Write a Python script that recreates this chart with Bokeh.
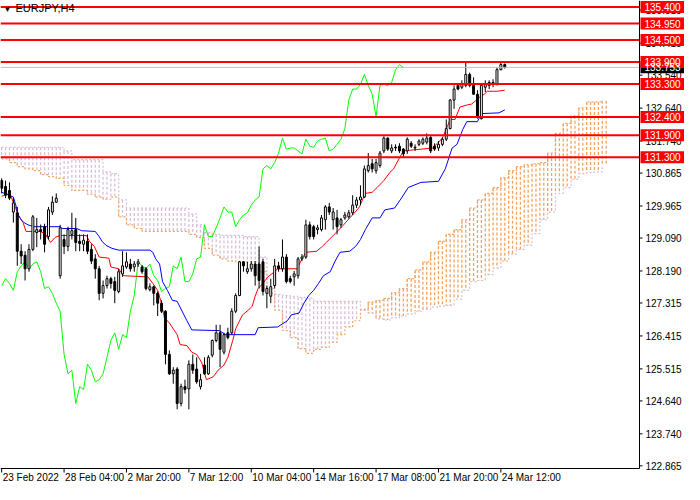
from bokeh.plotting import figure
from bokeh.models import Range1d, Label
from bokeh.core.properties import value
from bokeh.embed import file_html
from bokeh.resources import INLINE

# ---------------- data ----------------
symbol = "EURJPY,H4"
time_label_bars = [0, 16, 32, 48, 64, 80, 96, 112, 128]
time_labels = ["23 Feb 2022", "28 Feb 04:00", "2 Mar 20:00", "7 Mar 12:00", "10 Mar 04:00",
               "14 Mar 16:00", "17 Mar 08:00", "21 Mar 20:00", "24 Mar 12:00"]
price_ticks = [135.315, 134.415, 133.540, 132.640, 131.740, 130.865, 129.965, 129.090,
               128.190, 127.315, 126.415, 125.515, 124.640, 123.740, 122.865]
levels = [135.40, 134.95, 134.50, 133.90, 133.30, 132.40, 131.90, 131.30]
last_price = 133.753

opens = [130.66, 130.50, 130.39, 129.80, 129.78, 128.73, 128.62, 128.25, 128.78, 129.24,
         129.32, 129.40, 129.13, 129.80, 130.07, 128.06, 129.05, 128.86, 129.19, 129.32,
         129.00, 128.92, 129.00, 128.78, 128.52, 128.25, 127.58, 127.79, 127.98, 127.90,
         127.63, 128.11, 128.30, 128.38, 128.30, 128.38, 128.30, 128.25, 127.68, 127.76,
         127.58, 127.31, 127.09, 125.91, 125.38, 125.51, 124.57, 125.03, 124.97, 125.64,
         125.51, 125.03, 125.62, 125.38, 125.89, 126.29, 126.50, 125.97, 126.50, 126.50,
         127.09, 127.52, 128.44, 128.17, 128.25, 128.38, 128.38, 128.44, 127.58, 127.50,
         127.79, 128.33, 128.25, 128.57, 127.98, 128.03, 128.06, 128.52, 128.57, 129.45,
         129.40, 129.32, 129.32, 129.59, 129.94, 129.59, 129.64, 129.45, 129.64, 129.67,
         129.78, 129.99, 130.13, 130.21, 130.93, 131.12, 130.93, 131.07, 131.47, 131.82,
         131.47, 131.57, 131.60, 131.52, 131.47, 131.68, 131.55, 131.65, 131.68, 131.71,
         131.84, 131.60, 131.55, 131.65, 131.79, 132.08, 132.86, 133.26, 133.21, 133.26,
         133.56, 133.26, 133.02, 132.35, 133.21, 133.34, 133.29, 133.29, 133.69, 133.83]
highs = [130.72, 130.66, 130.61, 130.18, 129.94, 128.92, 128.73, 128.92, 129.72, 129.64,
         129.46, 129.48, 129.94, 130.23, 130.31, 129.45, 129.19, 129.40, 129.78, 129.64,
         129.19, 129.19, 129.19, 128.92, 128.65, 128.33, 127.93, 128.06, 128.03, 128.03,
         128.25, 128.73, 128.70, 128.52, 128.46, 128.52, 128.35, 128.30, 127.85, 127.79,
         127.63, 127.39, 127.12, 126.02, 125.56, 125.56, 125.11, 125.22, 125.75, 125.91,
         125.83, 125.38, 125.83, 125.89, 126.32, 126.72, 126.72, 126.50, 126.64, 127.17,
         127.58, 128.46, 128.46, 128.44, 128.46, 128.46, 128.86, 128.52, 127.79, 127.98,
         128.52, 128.44, 129.05, 128.65, 128.06, 128.19, 128.57, 128.65, 129.59, 129.54,
         129.45, 129.45, 129.72, 129.99, 130.05, 129.91, 129.86, 129.64, 129.80, 129.86,
         130.26, 130.21, 130.53, 131.07, 131.41, 131.25, 131.25, 131.47, 131.87, 131.84,
         131.65, 131.65, 131.68, 131.55, 131.84, 131.74, 131.65, 131.79, 131.84, 131.95,
         131.87, 131.68, 131.74, 131.84, 132.33, 132.89, 133.26, 133.29, 133.40, 133.88,
         133.61, 133.48, 133.13, 133.29, 133.40, 133.40, 133.43, 133.75, 133.88, 133.86]
lows = [130.31, 130.18, 130.13, 129.51, 128.33, 128.38, 127.93, 128.17, 128.73, 128.84,
        129.05, 128.70, 129.05, 129.72, 130.05, 127.98, 128.65, 128.73, 129.05, 128.73,
        128.73, 128.73, 128.65, 128.38, 127.98, 127.39, 127.44, 127.71, 127.71, 127.31,
        127.58, 128.03, 128.25, 128.17, 128.17, 128.30, 128.11, 127.66, 127.63, 127.25,
        126.96, 127.04, 125.64, 125.35, 125.11, 124.41, 124.49, 124.84, 124.41, 125.38,
        125.11, 124.95, 125.35, 125.35, 125.83, 126.24, 125.56, 125.91, 126.32, 126.45,
        127.04, 127.50, 128.17, 128.11, 128.17, 127.79, 127.71, 127.52, 127.17, 127.31,
        127.71, 128.17, 128.17, 127.85, 127.85, 127.79, 127.98, 128.46, 128.52, 129.05,
        129.05, 129.19, 129.27, 129.32, 129.72, 129.32, 129.19, 129.37, 129.59, 129.62,
        129.72, 129.91, 129.99, 130.18, 130.88, 130.88, 130.85, 131.01, 131.41, 131.47,
        131.41, 131.47, 131.41, 131.28, 131.39, 131.55, 131.47, 131.60, 131.63, 131.65,
        131.41, 131.47, 131.47, 131.60, 131.74, 132.06, 132.62, 133.13, 133.16, 133.21,
        133.21, 133.00, 132.35, 132.33, 133.08, 133.16, 133.21, 133.26, 133.67, 133.72]
closes = [130.45, 130.26, 130.18, 130.05, 128.73, 128.60, 128.25, 128.78, 129.67, 129.32,
          129.27, 128.92, 129.86, 130.07, 130.18, 129.37, 128.86, 129.32, 129.29, 128.97,
          128.94, 129.03, 128.73, 128.46, 128.25, 127.58, 127.79, 127.98, 127.85, 127.66,
          128.17, 128.33, 128.44, 128.25, 128.38, 128.44, 128.17, 127.71, 127.76, 127.58,
          127.31, 127.09, 125.91, 125.38, 125.48, 124.57, 125.03, 124.95, 125.64, 125.48,
          125.16, 125.22, 125.38, 125.83, 126.29, 126.50, 126.05, 126.45, 126.37, 127.09,
          127.52, 128.44, 128.33, 128.25, 128.38, 128.06, 127.93, 127.63, 127.71, 127.76,
          128.33, 128.25, 128.57, 127.90, 127.90, 128.11, 128.52, 128.57, 129.45, 129.13,
          129.13, 129.37, 129.64, 129.94, 129.80, 129.80, 129.40, 129.59, 129.72, 129.78,
          129.99, 130.13, 130.21, 130.98, 131.07, 130.98, 131.15, 131.41, 131.82, 131.52,
          131.55, 131.55, 131.47, 131.39, 131.79, 131.60, 131.57, 131.74, 131.79, 131.82,
          131.47, 131.52, 131.65, 131.79, 132.08, 132.86, 133.16, 133.16, 133.29, 133.56,
          133.26, 133.02, 132.41, 133.26, 133.29, 133.26, 133.34, 133.69, 133.83, 133.75]

# Ichimoku lines (bar position, price)
tenkan_bar = [0, 2, 3, 4.25, 5.5, 6.25, 10, 11.25, 12.5, 13.75, 15, 21.75, 22.5, 23.75, 25, 27.5, 28,
              30, 31.25, 37.5, 38.75, 40, 40.75, 41.75, 43, 45, 45.75, 47.5, 48.75, 50, 51.25, 52.5,
              54.25, 55.5, 57, 58, 59.25, 60, 61.75, 63.25, 64.25, 65, 65.75, 67, 68.25, 70, 70.75,
              75.75, 77, 78, 80.75, 82, 83.25, 85.75, 87.5, 89.25, 90.5, 91.75, 92.5, 93.25, 95,
              96.25, 98, 99.5, 100.5, 102, 103, 110.5, 111.75, 113, 113.75, 115, 116.25, 117.5,
              119.5, 120.5, 121.75, 122.5, 123.75, 124.5, 127, 129]
tenkan = [130.23, 130.31, 130.07, 129.72, 129.51, 129.27, 129.27, 129.19, 128.97, 129.11, 129.16,
          129.16, 129.00, 128.86, 128.57, 128.54, 128.30, 128.25, 128.06, 128.03, 127.85, 127.66,
          127.39, 126.91, 126.77, 126.45, 126.18, 126.15, 125.97, 125.91, 125.70, 125.22, 125.30,
          125.48, 125.62, 125.83, 126.29, 126.61, 126.99, 127.12, 127.23, 127.50, 127.71, 127.85,
          128.03, 128.17, 128.25, 128.25, 128.52, 128.70, 128.73, 128.84, 128.97, 129.24, 129.43,
          129.64, 129.78, 129.94, 130.13, 130.31, 130.34, 130.47, 130.66, 130.88, 130.98, 131.28,
          131.47, 131.55, 131.68, 131.82, 132.00, 132.33, 132.33, 132.67, 132.73, 132.75, 132.86,
          132.94, 133.02, 133.10, 133.10, 133.13]
kijun_bar = [0, 3, 3.75, 4.25, 5, 5.75, 6.75, 8.25, 15, 15.5, 19.25, 20.5, 24, 25, 25.75, 26.75,
             28.25, 30, 38, 38.75, 39.5, 40.5, 41.25, 42.5, 43.75, 45, 47.5, 48.75, 55.75, 57.5,
             65, 65.75, 70.75, 73.25, 74.25, 76.25, 77.5, 78.75, 80, 81.25, 82.5, 84.25, 85.5,
             86.75, 89.25, 90.75, 92, 93.25, 95, 97, 98.25, 100.75, 102.5, 104.25, 107.5, 112,
             113.75, 115.5, 116.75, 118.25, 119.25, 122, 123, 127.5, 129]
kijun = [130.34, 130.21, 129.94, 129.72, 129.59, 129.51, 129.45, 129.40, 129.40, 129.35, 129.35,
         129.29, 129.27, 129.13, 129.00, 128.89, 128.81, 128.76, 128.76, 128.70, 128.52, 128.38,
         127.90, 127.66, 127.39, 127.36, 126.83, 126.58, 126.56, 126.45, 126.45, 126.64, 126.66,
         126.83, 126.99, 127.04, 127.31, 127.52, 127.66, 127.85, 128.06, 128.17, 128.46, 128.70,
         128.73, 128.86, 129.05, 129.32, 129.64, 129.64, 129.86, 129.91, 130.18, 130.47, 130.61,
         130.64, 130.98, 131.55, 131.65, 132.06, 132.27, 132.27, 132.49, 132.51, 132.59]
cloud_bar = list(range(0, 156, 2))
span_a = [131.25, 131.15, 131.04, 130.98, 130.93, 130.82, 130.77, 130.72, 130.53, 130.39,
          130.39, 130.29, 130.21, 130.15, 130.21, 129.67, 129.45, 129.35, 129.27, 129.27,
          129.27, 129.27, 129.27, 129.27, 129.19, 129.11, 128.81, 128.62, 128.52, 128.46,
          128.44, 128.44, 128.44, 128.17, 127.58, 127.12, 126.56, 126.37, 126.07, 125.94,
          126.05, 126.10, 126.24, 126.45, 126.66, 126.83, 127.12, 127.34, 127.39, 127.44,
          127.60, 127.71, 127.98, 128.22, 128.44, 128.70, 129.00, 129.19, 129.32, 129.59,
          129.91, 130.13, 130.31, 130.47, 130.74, 130.93, 131.04, 131.09, 131.12, 131.15,
          131.41, 131.95, 132.22, 132.43, 132.65, 132.81, 132.81, 132.84]
span_b = [131.57, 131.57, 131.57, 131.57, 131.57, 131.57, 131.57, 131.57, 131.47, 131.23,
          131.23, 131.23, 131.23, 130.90, 130.85, 130.13, 129.91, 129.91, 129.91, 129.91,
          129.91, 129.91, 129.91, 129.91, 129.75, 129.45, 129.24, 129.19, 129.16, 129.16,
          129.16, 129.13, 129.13, 128.57, 127.71, 127.55, 127.52, 127.50, 127.47, 127.44,
          127.36, 127.36, 127.36, 127.36, 127.36, 127.36, 127.15, 127.04, 126.88, 126.85,
          126.91, 126.96, 127.01, 127.09, 127.15, 127.20, 127.23, 127.25, 127.42, 127.66,
          127.90, 127.93, 128.09, 128.27, 128.46, 128.65, 128.78, 128.89, 129.21, 129.59,
          129.80, 130.31, 130.47, 130.69, 130.85, 130.88, 130.90, 131.07]

# ---------------- layout (pixels -> data units) ----------------
FONT = "Liberation Sans"
W, H = 684, 484
PXB, PXY = 3.9, 36.6              # pixels per bar, pixels per yen
X0, Y_TOP = -0.3, 135.58
X1 = X0 + W / PXB
Y_BOT = Y_TOP - H / PXY
XA = X0 + 639 / PXB                # price-scale line
YA = Y_TOP - 468 / PXY             # time-scale line
dx = lambda px: px / PXB
dy = lambda px: px / PXY

p = figure(width=W, height=H, x_range=Range1d(X0, X1), y_range=Range1d(Y_BOT, Y_TOP),
           x_axis_location=None, y_axis_location=None, toolbar_location=None,
           output_backend="svg", min_border=0)
p.outline_line_color = None
p.grid.visible = False

# Ichimoku cloud: dotted columns, one per bar, each sample covering two bars
col_x, col_top, col_bot, col_c = [], [], [], []
for b, a, s in zip(cloud_bar, span_a, span_b):
    for k in (0, 1):
        col_x.append(b + k)
        col_top.append(max(a, s))
        col_bot.append(min(a, s))
        col_c.append("#F4A460" if a >= s else "#D8BFD8")
p.segment(col_x, col_top, col_x, col_bot, line_color=col_c, line_width=1.3, line_dash="3 2")
p.step(cloud_bar, span_a, mode="after", line_color="#F4A460", line_width=1.2, line_dash="2 2")
p.step(cloud_bar, span_b, mode="after", line_color="#D8BFD8", line_width=1.2, line_dash="2 2")

# lines
idx = list(range(len(closes)))
p.line(idx[:-26], closes[26:], line_color="#00FF00", line_width=1)
p.line(tenkan_bar, tenkan, line_color="#FF0000", line_width=1)
p.line(kijun_bar, kijun, line_color="#0000FF", line_width=1)

# candles
body_lo = [min(o, c) for o, c in zip(opens, closes)]
body_hi = [max(o, c) for o, c in zip(opens, closes)]
fills = ["white" if c >= o else "black" for o, c in zip(opens, closes)]
p.segment(idx, lows, idx, highs, line_color="black", line_width=1)
p.vbar(x=idx, bottom=body_lo, top=body_hi, width=0.5, fill_color=fills,
       line_color="black", line_width=1)

# bid line and horizontal levels (stop at the price scale)
p.segment([X0], [last_price], [XA], [last_price], line_color="#C0C0C0", line_width=1)
p.segment([X0] * len(levels), levels, [XA] * len(levels), levels,
          line_color="#FF0000", line_width=2)

# price scale
ticks_in = [t for t in price_ticks if t > YA]
p.segment([XA], [YA], [XA], [Y_TOP], line_color="black", line_width=1)
p.segment([XA] * len(ticks_in), ticks_in, [XA + dx(3)] * len(ticks_in), ticks_in,
          line_color="black", line_width=1)
p.text(x=[XA + dx(6)] * len(ticks_in), y=ticks_in, text=[f"{t:.3f}" for t in ticks_in],
       text_font=value(FONT), text_font_size="10px", text_color="black",
       text_align="left", text_baseline="middle")

# price boxes
box_prices = [last_price] + levels
box_colors = ["black"] + ["#FF0000"] * len(levels)
p.quad(left=[XA + dx(1)] * len(box_prices), right=[X1] * len(box_prices),
       bottom=[v - dy(6) for v in box_prices], top=[v + dy(6) for v in box_prices],
       fill_color=box_colors, line_color=None)
p.text(x=[XA + dx(5)] * len(box_prices), y=box_prices,
       text=[f"{v:.3f}" for v in box_prices], text_font=value(FONT),
       text_font_size="10px", text_color="white", text_align="left", text_baseline="middle")

# time scale
p.segment([X0], [YA], [XA], [YA], line_color="black", line_width=1)
p.segment(time_label_bars, [YA] * len(time_label_bars), time_label_bars,
          [YA - dy(4)] * len(time_label_bars), line_color="black", line_width=1)
p.text(x=[b + dx(1) for b in time_label_bars], y=[YA - dy(3)] * len(time_label_bars),
       text=time_labels, text_font=value(FONT), text_font_size="10px", text_color="black",
       text_align="left", text_baseline="top")

# title
p.add_layout(Label(x=X0, y=Y_TOP, x_offset=3, y_offset=-4, text="\u25BC", text_font=FONT,
                   text_font_size="8px", text_color="black", text_baseline="top"))
p.add_layout(Label(x=X0, y=Y_TOP, x_offset=15, y_offset=-1, text=symbol, text_font=FONT,
                   text_font_size="11px", text_color="black", text_baseline="top"))

open("out.html", "w").write(file_html(p, INLINE))
